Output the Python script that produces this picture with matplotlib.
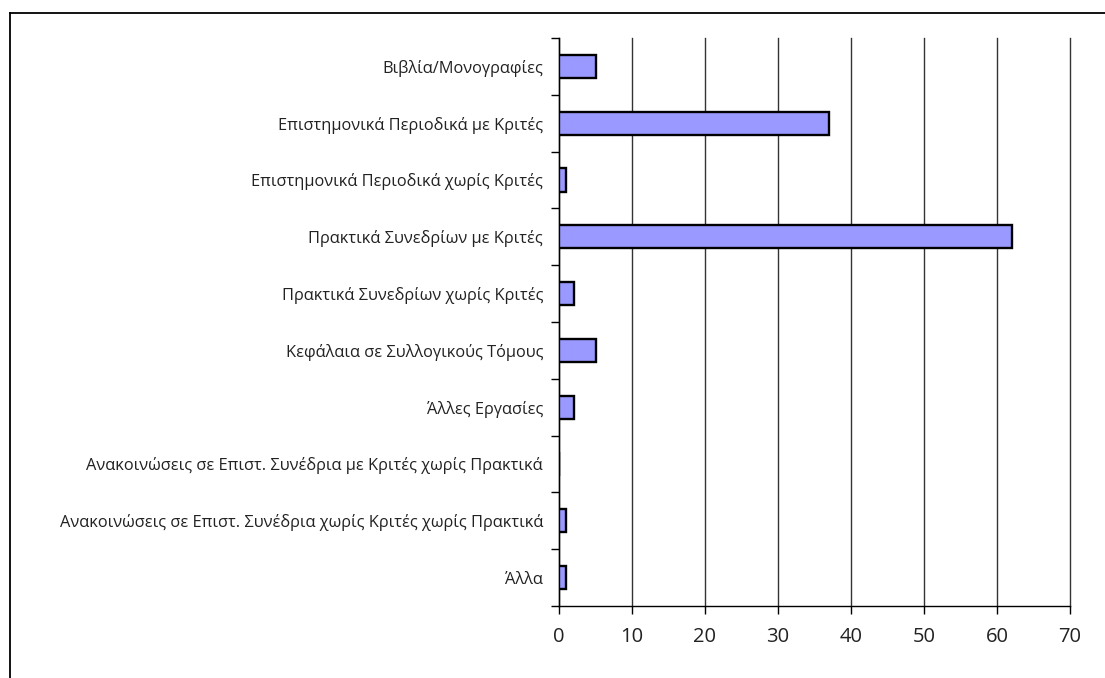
import matplotlib
matplotlib.use("Agg")
import matplotlib.pyplot as plt
from matplotlib.lines import Line2D
import numpy as np

categories = [
    "Βιβλία/Μονογραφίες",
    "Επιστημονικά Περιοδικά με Κριτές",
    "Επιστημονικά Περιοδικά χωρίς Κριτές",
    "Πρακτικά Συνεδρίων με Κριτές",
    "Πρακτικά Συνεδρίων χωρίς Κριτές",
    "Κεφάλαια σε Συλλογικούς Τόμους",
    "Άλλες Εργασίες",
    "Ανακοινώσεις σε Επιστ. Συνέδρια με Κριτές χωρίς Πρακτικά",
    "Ανακοινώσεις σε Επιστ. Συνέδρια χωρίς Κριτές χωρίς Πρακτικά",
    "Άλλα",
]
values = [5, 37, 1, 62, 2, 5, 2, 0, 1, 1]
xticks = [0, 10, 20, 30, 40, 50, 60, 70]

plt.rcParams['font.family'] = ['Open Sans', 'DejaVu Sans']

fig = plt.figure(figsize=(11.05, 6.78), dpi=100)
ax = fig.add_axes([559/1105, 1 - 606/678, (1070 - 559)/1105, (606 - 38)/678])

y = np.arange(len(categories))
ax.barh(y, values, height=0.41, color='#9999FF', edgecolor='black', linewidth=1.7, zorder=3)
ax.set_ylim(len(categories) - 0.5, -0.5)
ax.set_xlim(0, 70)
ax.set_xticks(xticks)
ax.set_xticklabels([str(t) for t in xticks], fontsize=14.5, color='#222222')
ax.set_yticks(y)
ax.set_yticklabels(categories, fontsize=11.8, color='#222222')
ax.set_yticks(np.arange(len(categories) + 1) - 0.5, minor=True)
ax.tick_params(axis='y', which='major', length=0, pad=11.5)
ax.tick_params(axis='y', which='minor', length=6, width=1, direction='out')
ax.tick_params(axis='x', length=6, width=1, direction='out', pad=9)
ax.grid(axis='x', color='#333333', linewidth=1, zorder=0)
for gl in ax.get_xgridlines():
    gl.set_clip_on(False)
for s in ['top', 'right']:
    ax.spines[s].set_visible(False)
for s in ['left', 'bottom']:
    ax.spines[s].set_color('black')
    ax.spines[s].set_linewidth(1)

# outer frame (top and left only visible)
fig.add_artist(Line2D([10/1105, 1.0], [1 - 13/678, 1 - 13/678], transform=fig.transFigure, color='black', linewidth=1.3))
fig.add_artist(Line2D([10/1105, 10/1105], [0, 1 - 13/678], transform=fig.transFigure, color='black', linewidth=1.3))

fig.savefig("out.png", dpi=100)
